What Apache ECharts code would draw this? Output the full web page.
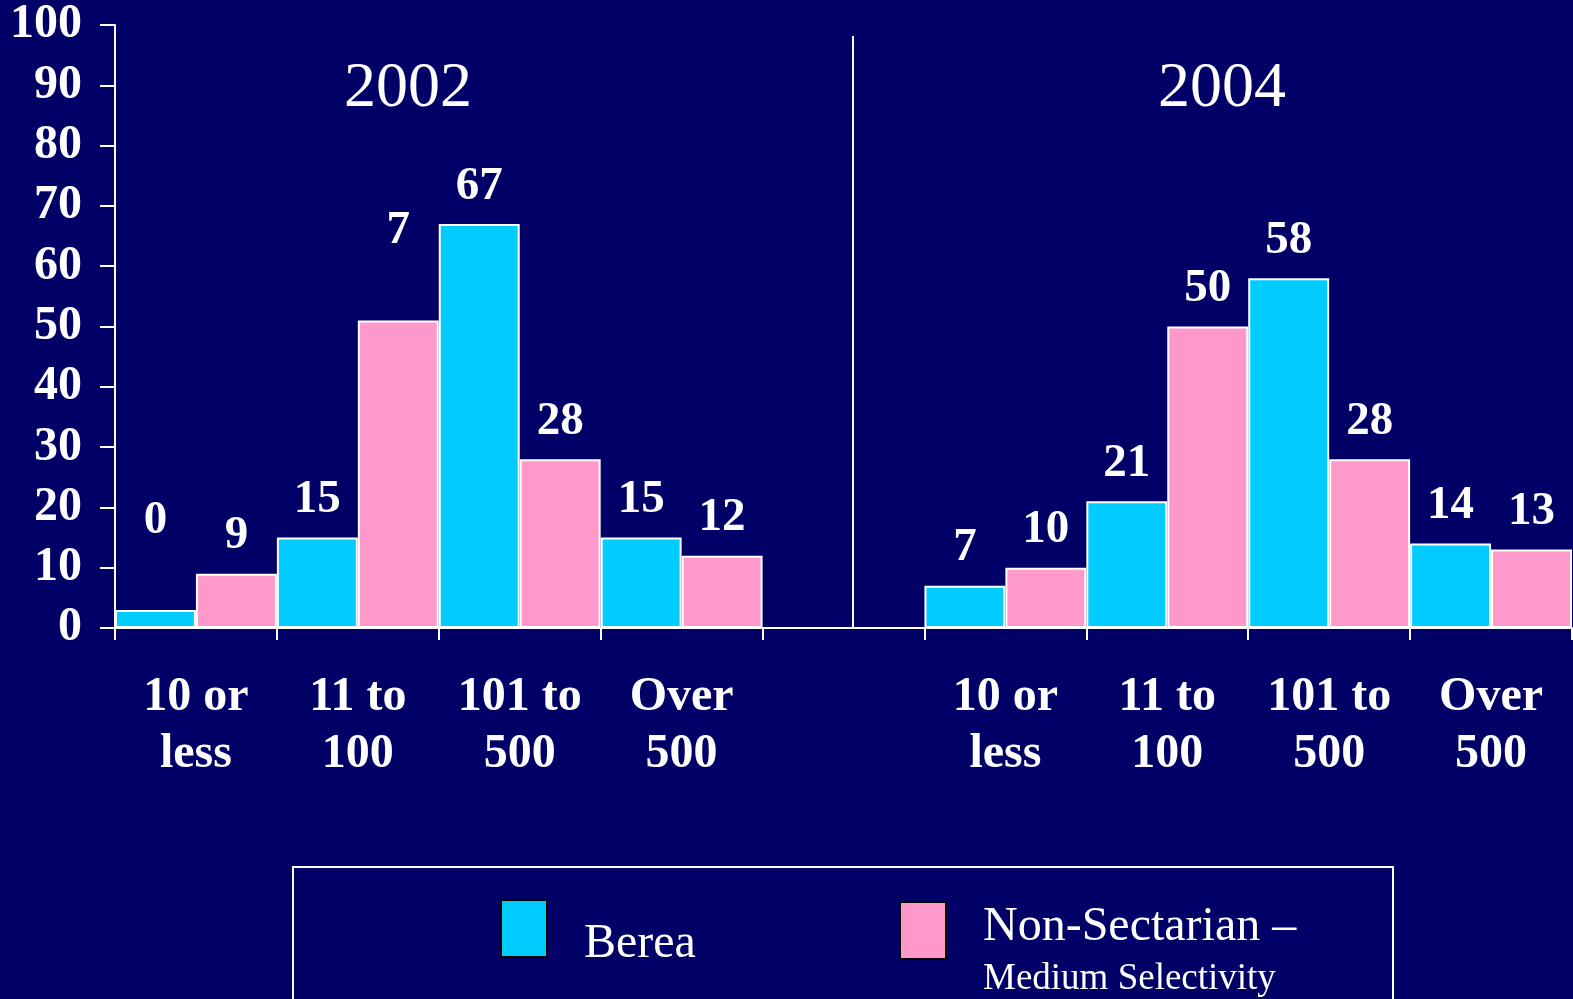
<!DOCTYPE html>
<html>
<head>
<meta charset="utf-8">
<script src="https://cdn.jsdelivr.net/npm/echarts@6/dist/echarts.min.js"></script>
<style>
html,body{margin:0;padding:0;background:#000066;}
#chart{width:1573px;height:999px;}
</style>
</head>
<body>
<div id="chart"></div>
<script>
// ---- data ----
const categories = ['10 or\nless', '11 to\n100', '101 to\n500', 'Over\n500', '', '10 or\nless', '11 to\n100', '101 to\n500', 'Over\n500'];
const bereaValues = [3, 15, 67, 15, '-', 7, 21, 58, 14];
const nonSectValues = [9, 51, 28, 12, '-', 10, 50, 28, 13];
const bereaLabels = ['0', '15', '67', '15', '', '7', '21', '58', '14'];
const nonSectLabels = ['9', '7', '28', '12', '', '10', '50', '28', '13'];
const yearTitles = ['2002', '2004'];
const seriesNames = ['Berea', 'Non-Sectarian \u2013', 'Medium Selectivity'];
const yTicks = [0, 10, 20, 30, 40, 50, 60, 70, 80, 90, 100];

const FONT = '"Liberation Serif", "Times New Roman", serif';
const CYAN = '#00CCFF', PINK = '#FF99CC', BG = '#000066';

// label items that sit higher than their bars in the original
const liftedBerea = {0: true};
const liftedPink = {1: true};

function buildData(values, labels, lifted) {
  return values.map((v, i) => {
    const item = { value: v };
    if (lifted[i]) item.label = { offset: [0, -52] };
    return item;
  });
}

const labelStyle = (labels) => ({
  show: true,
  position: 'top',
  distance: 14,
  color: '#fff',
  fontFamily: FONT,
  fontWeight: 'bold',
  fontSize: 47,
  formatter: p => labels[p.dataIndex]
});

const chart = echarts.init(document.getElementById('chart'), null, {renderer: 'canvas'});
chart.setOption({
  backgroundColor: BG,
  animation: false,
  grid: { left: 115, right: 1, top: 25, bottom: 371, containLabel: false },
  xAxis: {
    type: 'category',
    data: categories,
    boundaryGap: true,
    axisLine: { lineStyle: { color: '#fff', width: 2 } },
    axisTick: { show: true, interval: 0, length: 12, lineStyle: { color: '#fff', width: 2 } },
    axisLabel: {
      interval: 0, margin: 41, color: '#fff', fontFamily: FONT, fontWeight: 'bold',
      fontSize: 48, lineHeight: 57
    },
    splitLine: { show: false }
  },
  yAxis: {
    type: 'value',
    min: yTicks[0], max: yTicks[yTicks.length - 1], interval: 10,
    axisLine: { show: true, lineStyle: { color: '#fff', width: 2 } },
    axisTick: { show: true, length: 15, lineStyle: { color: '#fff', width: 2 } },
    axisLabel: { margin: 33, color: '#fff', fontFamily: FONT, fontWeight: 'bold', fontSize: 48 },
    splitLine: { show: false }
  },
  series: [
    {
      name: seriesNames[0], type: 'bar',
      data: buildData(bereaValues, bereaLabels, liftedBerea),
      barGap: '0%', barCategoryGap: '0%',
      itemStyle: { color: CYAN, borderColor: '#fff', borderWidth: 2 },
      label: labelStyle(bereaLabels)
    },
    {
      name: seriesNames[1], type: 'bar',
      data: buildData(nonSectValues, nonSectLabels, liftedPink),
      barGap: '0%', barCategoryGap: '0%',
      itemStyle: { color: PINK, borderColor: '#fff', borderWidth: 2 },
      label: labelStyle(nonSectLabels)
    }
  ],
  graphic: [
    { type: 'line', shape: { x1: 853, y1: 36, x2: 853, y2: 628 }, style: { stroke: '#fff', lineWidth: 2 }, z: 10 },
    { type: 'text', x: 408, y: 89, style: { text: yearTitles[0], fill: '#fff', font: '64px ' + FONT, textAlign: 'center', textVerticalAlign: 'middle' } },
    { type: 'text', x: 1222, y: 89, style: { text: yearTitles[1], fill: '#fff', font: '64px ' + FONT, textAlign: 'center', textVerticalAlign: 'middle' } },
    // legend box
    { type: 'rect', shape: { x: 293, y: 867, width: 1100, height: 200 }, style: { fill: 'transparent', stroke: '#fff', lineWidth: 2 } },
    { type: 'rect', shape: { x: 501, y: 900, width: 46, height: 57 }, style: { fill: CYAN, stroke: '#000', lineWidth: 2 } },
    { type: 'text', x: 584, y: 944, style: { text: seriesNames[0], fill: '#fff', font: '48px ' + FONT, textAlign: 'left', textVerticalAlign: 'middle' } },
    { type: 'rect', shape: { x: 900, y: 902, width: 46, height: 57 }, style: { fill: PINK, stroke: '#000', lineWidth: 2 } },
    { type: 'text', x: 983, y: 927, style: { text: seriesNames[1], fill: '#fff', font: '48px ' + FONT, textAlign: 'left', textVerticalAlign: 'middle' } },
    { type: 'text', x: 983, y: 979, style: { text: seriesNames[2], fill: '#fff', font: '37px ' + FONT, textAlign: 'left', textVerticalAlign: 'middle' } }
  ]
});
</script>
</body>
</html>
